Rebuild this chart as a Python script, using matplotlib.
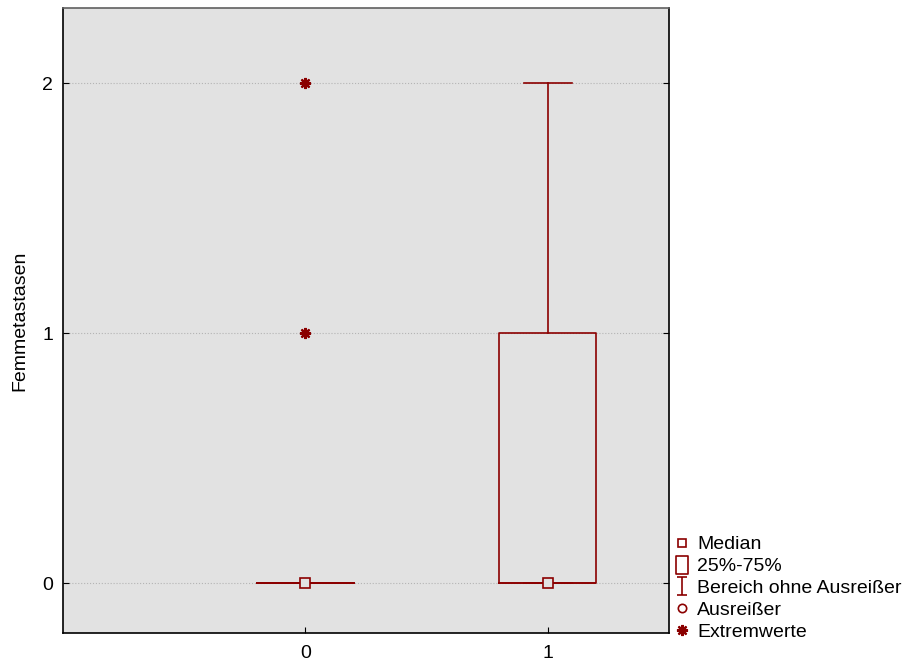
import numpy as np
import matplotlib
matplotlib.use('Agg')
import matplotlib.pyplot as plt
from matplotlib.lines import Line2D
from matplotlib.path import Path

plt.rcParams['font.family'] = ['Liberation Sans', 'DejaVu Sans']

# Boxplot-Kennwerte je Gruppe
gruppen = [0, 1]
median = [0, 0]
q25 = [0, 0]
q75 = [0, 1]
wmin = [0, 0]
wmax = [0, 2]
extremwerte = [[1, 2], []]

farbe = '#8b0000'

fig = plt.figure(figsize=(9.06, 6.63), dpi=100)
ax = fig.add_axes([63/906, 30/663, 606/906, 625/663])
ax.set_facecolor('#e2e2e2')

stats = []
for i in range(len(gruppen)):
    stats.append(dict(med=median[i], q1=q25[i], q3=q75[i], whislo=wmin[i], whishi=wmax[i],
                      fliers=extremwerte[i], label=str(gruppen[i])))

ax.bxp(stats, positions=gruppen, widths=0.4, showfliers=True, patch_artist=False,
       boxprops=dict(color=farbe, lw=1.2),
       whiskerprops=dict(color=farbe, lw=1.2),
       capprops=dict(color=farbe, lw=1.2),
       medianprops=dict(color=farbe, lw=1.2),
       capwidths=0.2,
       flierprops=dict(marker=(8, 2, 0), markeredgecolor=farbe, markersize=8, mew=1.6, linestyle='none'))

ax.plot(gruppen, median, 's', mfc='#e2e2e2', mec=farbe, ms=7, mew=1.2, ls='none', zorder=5)

ax.set_xlim(-1, 1.5)
ax.set_ylim(-0.2, 2.3)
ax.set_xticks(gruppen)
ax.set_xticklabels([str(g) for g in gruppen])
ax.set_yticks([0, 1, 2])
ax.yaxis.grid(True, color='#b4b4b4', ls=':', lw=0.8)
ax.set_axisbelow(True)
ax.tick_params(direction='in', length=4, labelsize=14, right=True, colors='black')
ax.tick_params(axis='x', pad=9)
ax.tick_params(axis='y', pad=7)
for s in ax.spines.values():
    s.set_linewidth(1.2)
ax.spines['top'].set_color('#606060')
ax.set_ylabel('Femmetastasen', fontsize=14, labelpad=10)

# Legende rechts unten
ibeam = Path([(-0.6, -1), (0.6, -1), (0, -1), (0, 1), (-0.6, 1), (0.6, 1)],
             [Path.MOVETO, Path.LINETO, Path.MOVETO, Path.LINETO, Path.MOVETO, Path.LINETO])
rechteck = Path([(-0.65, -1), (0.65, -1), (0.65, 1), (-0.65, 1), (-0.65, -1)],
                [Path.MOVETO, Path.LINETO, Path.LINETO, Path.LINETO, Path.CLOSEPOLY])
handles = [
    Line2D([], [], marker='s', mfc='none', mec=farbe, ms=6, mew=1.2, ls='none'),
    Line2D([], [], marker=rechteck, mfc='none', mec=farbe, ms=12.5, mew=1.2, ls='none'),
    Line2D([], [], marker=ibeam, mfc='none', mec=farbe, ms=13, mew=1.2, ls='none'),
    Line2D([], [], marker='o', mfc='none', mec=farbe, ms=6, mew=1.2, ls='none'),
    Line2D([], [], marker=(8, 2, 0), mec=farbe, ms=8, mew=1.6, ls='none'),
]
labels = ['Median', '25%-75%', 'Bereich ohne Ausreißer', 'Ausreißer', 'Extremwerte']
fig.legend(handles, labels, loc='lower left', bbox_to_anchor=(674/906, 22/663),
           frameon=False, fontsize=14, handlelength=0.8, handletextpad=0.4,
           labelspacing=0.22, borderpad=0, borderaxespad=0)

fig.savefig('out.png', dpi=100)
